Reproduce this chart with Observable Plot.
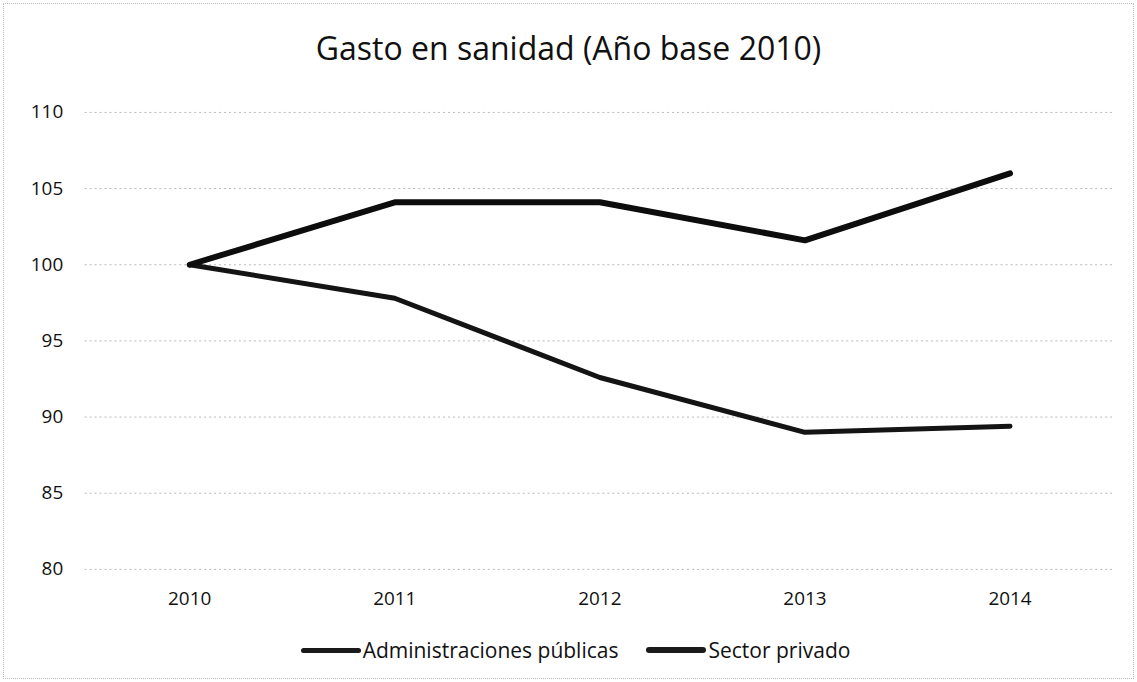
<!DOCTYPE html>
<html>
<head>
<meta charset="utf-8">
<script src="https://cdn.jsdelivr.net/npm/d3@7"></script>
<script src="https://cdn.jsdelivr.net/npm/@observablehq/plot@0.6"></script>
<style>
  html, body { margin: 0; padding: 0; background: #fff; }
  #wrap { position: relative; width: 1131px; height: 676px; margin: 3px; border: 1px dotted #bbb; box-sizing: border-box; font-family: "Open Sans", sans-serif; color: #111; }
  #title { position: absolute; left: 0; top: 0; width: 100%; height: 86px; display: flex; align-items: center; justify-content: center; font-size: 32px; }
  #chart { position: absolute; left: -3px; top: 92px; }
  #legend { position: absolute; left: 0; top: 632px; width: 100%; display: flex; justify-content: center; align-items: center; font-size: 21px; gap: 28px; padding-left: 14px; box-sizing: border-box; }
  .item { display: flex; align-items: center; }
  .swatch { width: 60px; height: 5px; background: #1a1a1a; margin-right: 2px; border-radius: 3px; }
</style>
</head>
<body>
<div id="wrap">
  <div id="title">Gasto en sanidad (Año base 2010)</div>
  <div id="chart"></div>
  <div id="legend"></div>
</div>
<script>
const years = ["2010", "2011", "2012", "2013", "2014"];
const seriesNames = ["Administraciones públicas", "Sector privado"];
const adminValues = [100, 97.8, 92.6, 89.0, 89.4];
const privadoValues = [100, 104.1, 104.1, 101.6, 106.0];
const yTicks = [80, 85, 90, 95, 100, 105, 110];

const rows = [];
years.forEach((y, i) => {
  rows.push({year: y, value: adminValues[i], series: seriesNames[0]});
  rows.push({year: y, value: privadoValues[i], series: seriesNames[1]});
});

const chart = Plot.plot({
  width: 1137,
  height: 535,
  marginTop: 16,
  marginBottom: 60,
  marginLeft: 84,
  marginRight: 20,
  style: {fontFamily: "Open Sans, sans-serif", fontSize: "19px", color: "#111", background: "transparent"},
  x: {type: "point", domain: years, padding: 0.5, label: null},
  y: {domain: [80, 110], ticks: yTicks, label: null},
  marks: [
    Plot.gridY(yTicks, {stroke: "#b8b8b8", strokeOpacity: 1, strokeDasharray: "2,3", strokeWidth: 1}),
    Plot.axisY(yTicks, {tickSize: 0, tickPadding: 22, fontSize: 19, label: null}),
    Plot.axisX({tickSize: 0, tickPadding: 22, fontSize: 19, label: null}),
    Plot.line(rows.filter(d => d.series === seriesNames[0]), {x: "year", y: "value", stroke: "#141414", strokeWidth: 5, strokeLinejoin: "round", strokeLinecap: "round"}),
    Plot.line(rows.filter(d => d.series === seriesNames[1]), {x: "year", y: "value", stroke: "#0d0d0d", strokeWidth: 6, strokeLinejoin: "round", strokeLinecap: "round"})
  ]
});
document.getElementById("chart").appendChild(chart);

const legend = document.getElementById("legend");
seriesNames.forEach((name, i) => {
  const item = document.createElement("div");
  item.className = "item";
  const sw = document.createElement("span");
  sw.className = "swatch";
  sw.style.height = i === 0 ? "5px" : "6px";
  const label = document.createElement("span");
  label.textContent = name;
  item.appendChild(sw);
  item.appendChild(label);
  legend.appendChild(item);
});
</script>
</body>
</html>
